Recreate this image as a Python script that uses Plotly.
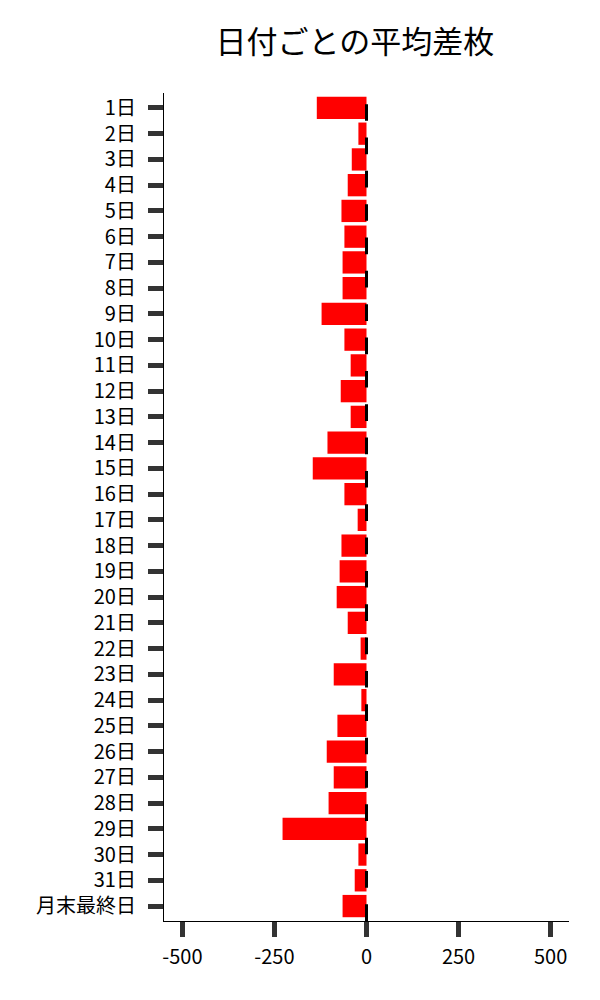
import plotly.graph_objects as go

# 日付ラベルと平均差枚
days = [f"{d}日" for d in range(1, 32)] + ["月末最終日"]
avg_diff = [
    -135, -22, -40, -51, -68, -60, -65, -65, -122, -60,
    -43, -70, -43, -106, -146, -60, -24, -68, -73, -81,
    -51, -16, -89, -14, -79, -108, -89, -103, -228, -22,
    -32, -65,
]
x_ticks = [-500, -250, 0, 250, 500]

FONT = "Noto Sans CJK JP"

fig = go.Figure()
fig.add_trace(go.Bar(
    x=avg_diff,
    y=days,
    orientation="h",
    marker=dict(color="#ff0000", line=dict(width=0)),
))

# zero line (dashed), drawn bottom -> top so the dash phase lines up
fig.add_shape(
    type="line", xref="x", yref="paper",
    x0=0, x1=0, y0=0, y1=1,
    line=dict(color="black", width=3, dash="16.67px,16.67px"),
    layer="above",
)

# page body has an 8px margin, so the figure is a bit smaller than the window
fig.update_layout(
    width=592, height=992,
    margin=dict(l=156, r=31, t=85, b=79),
    paper_bgcolor="white", plot_bgcolor="white",
    bargap=0.134,
    showlegend=False,
    font=dict(family=FONT, size=20, color="black"),
    title=dict(
        text="日付ごとの平均差枚",
        x=0.586, xanchor="center", y=0.966, yanchor="middle",
        font=dict(family=FONT, size=31, color="black"),
    ),
)
fig.update_xaxes(
    range=[-550, 550],
    tickvals=x_ticks,
    ticktext=[str(v) for v in x_ticks],
    showgrid=False, zeroline=False,
    showline=True, linecolor="black", linewidth=1.2,
    ticks="outside", ticklen=15, tickwidth=5, tickcolor="#333333",
    ticklabelstandoff=3,
    tickfont=dict(family=FONT, size=20, color="black"),
)
fig.update_yaxes(
    type="category",
    categoryorder="array", categoryarray=days,
    range=[len(days) - 0.42, -0.58],
    showgrid=False, zeroline=False,
    showline=True, linecolor="black", linewidth=1.2,
    ticks="outside", ticklen=15, tickwidth=5, tickcolor="#333333",
    ticklabelstandoff=8,
    tickfont=dict(family=FONT, size=20, color="black"),
)

fig.write_html("out.html")
